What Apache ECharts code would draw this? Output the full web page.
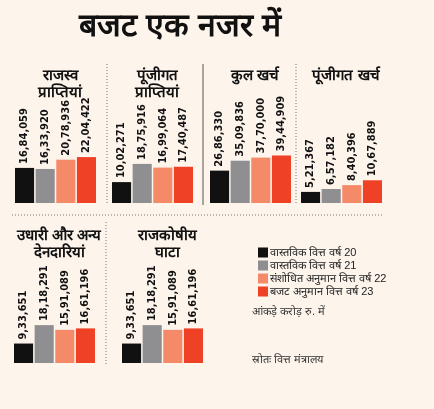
<!DOCTYPE html>
<html><head><meta charset="utf-8">
<script src="https://cdn.jsdelivr.net/npm/echarts@6/dist/echarts.min.js"></script>
<style>html,body{margin:0;background:#fdf4ec}#c{width:434px;height:409px}</style>
</head><body><div id="c"></div>
<script>
var seriesNames = ['वास्तविक वित्त वर्ष 20', 'वास्तविक वित्त वर्ष 21', 'संशोधित अनुमान वित्त वर्ष 22', 'बजट अनुमान वित्त वर्ष 23'];
var colors = ['#111111', '#8f8f91', '#f58a68', '#ee4126'];
var panelTitles = ['राजस्व\nप्राप्तियां', 'पूंजीगत\nप्राप्तियां', 'कुल खर्च', 'पूंजीगत खर्च', 'उधारी और अन्य\nदेनदारियां', 'राजकोषीय\nघाटा'];
var panelValues = [
	[1684059, 1633920, 2078936, 2204422],
	[1002271, 1875916, 1699064, 1740487],
	[2686330, 3509836, 3770000, 3944909],
	[521367, 657182, 840396, 1067889],
	[933651, 1818291, 1591089, 1661196],
	[933651, 1818291, 1591089, 1661196]
];
var panelLabels = [
	['16,84,059', '16,33,920', '20,78,936', '22,04,422'],
	['10,02,271', '18,75,916', '16,99,064', '17,40,487'],
	['26,86,330', '35,09,836', '37,70,000', '39,44,909'],
	['5,21,367', '6,57,182', '8,40,396', '10,67,889'],
	['9,33,651', '18,18,291', '15,91,089', '16,61,196'],
	['9,33,651', '18,18,291', '15,91,089', '16,61,196']
];
var panelMax = [4800000, 4800000, 8300000, 4700000, 4800000, 4800000];

var layout = [
	{ left: 15, top: 103, bottom: 203 },
	{ left: 112, top: 103, bottom: 203 },
	{ left: 210, top: 103, bottom: 203 },
	{ left: 301, top: 103, bottom: 203 },
	{ left: 14, top: 263, bottom: 363 },
	{ left: 122, top: 263, bottom: 363 }
];
var titleY = [62, 62, 62, 62, 222, 222];

var grids = [], xAxes = [], yAxes = [], series = [], titles = [];
for (var p = 0; p < 6; p++) {
	var l = layout[p];
	grids.push({ left: l.left, top: l.top, width: 81, height: l.bottom - l.top });
	xAxes.push({ type: 'category', gridIndex: p, data: [''], show: false });
	yAxes.push({ type: 'value', gridIndex: p, min: 0, max: panelMax[p], show: false });
	titles.push({
		text: panelTitles[p], left: l.left + 40, top: titleY[p], textAlign: 'center',
		textStyle: { fontSize: 15, fontWeight: 'bold', color: '#111', lineHeight: 17 }
	});
	for (var s = 0; s < 4; s++) {
		series.push({
			name: seriesNames[s], type: 'bar', xAxisIndex: p, yAxisIndex: p,
			data: [panelValues[p][s]], barGap: '8%', barCategoryGap: '0%',
			itemStyle: { color: colors[s] },
			label: {
				show: true, position: 'top', rotate: 90, align: 'left', verticalAlign: 'middle',
				distance: 4, formatter: panelLabels[p][s],
				fontFamily: 'DejaVu Sans Condensed', fontWeight: 'bold', fontSize: 11, color: '#111'
			}
		});
	}
}
titles.unshift({
	text: 'बजट एक नजर में', left: 175, top: 6, textAlign: 'center',
	textStyle: { fontSize: 32, fontWeight: 900, color: '#111' }
});

var chart = echarts.init(document.getElementById('c'));
chart.setOption({
	backgroundColor: '#fdf4ec',
	animation: false,
	title: titles,
	grid: grids, xAxis: xAxes, yAxis: yAxes, series: series,
	legend: {
		data: seriesNames, orient: 'vertical', left: 253, top: 242, itemGap: 2,
		itemWidth: 10, itemHeight: 10, icon: 'rect',
		textStyle: { fontSize: 11, color: '#222', padding: [0, 0, 0, -3] }
	},
	graphic: [
		{ type: 'line', shape: { x1: 107, y1: 64, x2: 107, y2: 205 }, style: { stroke: '#777', lineDash: [1, 2] } },
		{ type: 'line', shape: { x1: 203, y1: 64, x2: 203, y2: 205 }, style: { stroke: '#555' } },
		{ type: 'line', shape: { x1: 296, y1: 64, x2: 296, y2: 205 }, style: { stroke: '#777', lineDash: [1, 2] } },
		{ type: 'line', shape: { x1: 12, y1: 215, x2: 382, y2: 215 }, style: { stroke: '#777', lineDash: [1, 2] } },
		{ type: 'line', shape: { x1: 106, y1: 222, x2: 106, y2: 364 }, style: { stroke: '#777', lineDash: [1, 2] } },
		{ type: 'text', left: 252, top: 306, style: { text: 'आंकड़े करोड़ रु. में', fontSize: 11, fill: '#333' } },
		{ type: 'text', left: 252, top: 354, style: { text: 'स्रोतः वित्त मंत्रालय', fontSize: 11, fill: '#333' } }
	]
});
</script></body></html>
